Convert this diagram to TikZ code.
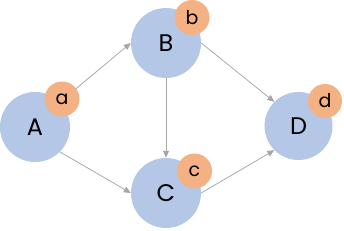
\documentclass[tikz,border=0pt]{standalone}
\usepackage{fontspec}
\setmainfont{Poppins}
\usetikzlibrary{arrows.meta}
\definecolor{bigblue}{HTML}{B4C7E7}
\definecolor{smallorange}{HTML}{F4B183}
\definecolor{linegray}{HTML}{A6A6A6}
\tikzset{
  bignode/.style={circle, fill=bigblue, minimum size=70pt, inner sep=0pt, font=\fontsize{24}{24}\selectfont},
  smallnode/.style={circle, fill=smallorange, minimum size=35pt, inner sep=0pt, font=\fontsize{19}{19}\selectfont},
  conn/.style={draw=linegray, line width=0.75pt, -{Triangle[length=7pt,width=6pt]}, color=linegray}
}
\begin{document}
\begin{tikzpicture}[x=1pt,y=-1pt]
\useasboundingbox (0,0) rectangle (344,230);
\node[bignode] (A) at (35,127) {A};
\node[bignode] (B) at (166,43) {B};
\node[bignode] (C) at (166,193) {C};
\node[bignode, minimum size=68pt] (D) at (298.5,126) {D};
\draw[conn] (A.north east) -- (B.west);
\draw[conn] (A.south east) -- (C.west);
\draw[conn] (B.south) -- (C.north);
\draw[conn] (B.east) -- (D.north west);
\draw[conn] (C.east) -- (D.south west);
\node[smallnode] (a) at (62,99) {a};
\node[smallnode] (b) at (192,17.5) {b};
\node[smallnode] (c) at (194.5,171) {c};
\node[smallnode, minimum size=34pt] (d) at (325,101) {d};
\end{tikzpicture}
\end{document}
